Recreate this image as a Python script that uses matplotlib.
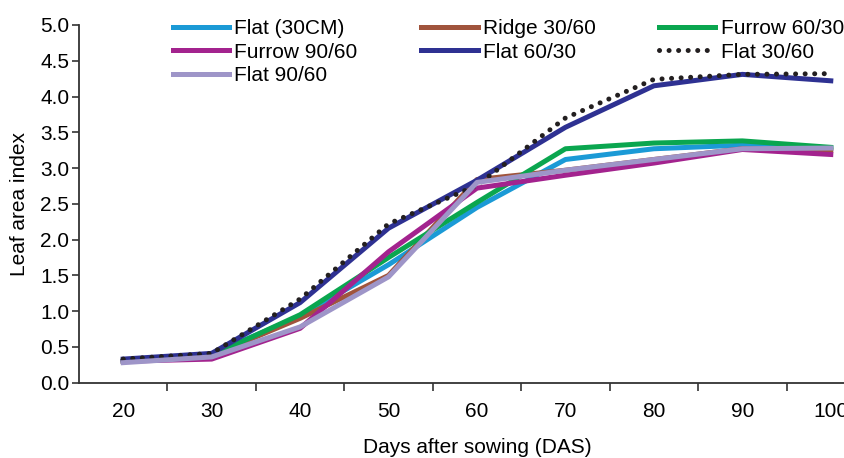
import numpy as np
import matplotlib
matplotlib.use("Agg")
import matplotlib.pyplot as plt

plt.rcParams['font.family'] = ['Liberation Sans', 'DejaVu Sans']

# Data
days = [20, 30, 40, 50, 60, 70, 80, 90, 100]
flat_30cm = [0.30, 0.40, 0.93, 1.65, 2.45, 3.12, 3.27, 3.32, 3.27]
ridge_30_60 = [0.30, 0.38, 0.90, 1.50, 2.84, 2.97, 3.12, 3.27, 3.25]
furrow_60_30 = [0.30, 0.38, 0.95, 1.75, 2.52, 3.27, 3.35, 3.38, 3.29]
furrow_90_60 = [0.30, 0.33, 0.76, 1.83, 2.72, 2.90, 3.07, 3.26, 3.19]
flat_60_30 = [0.33, 0.41, 1.12, 2.16, 2.83, 3.57, 4.15, 4.31, 4.22]
flat_30_60 = [0.33, 0.41, 1.17, 2.22, 2.76, 3.70, 4.24, 4.31, 4.32]
flat_90_60 = [0.28, 0.36, 0.78, 1.48, 2.80, 2.97, 3.12, 3.27, 3.28]

fig = plt.figure(figsize=(8.44, 4.58), dpi=100)
# axes runs past the right edge like in the original
ax = fig.add_axes([79 / 844, 1 - 382.7 / 458, 796 / 844, 357.7 / 458])

x = np.arange(len(days))
lw = 3.6
ax.plot(x, flat_30cm, color='#1b9ad6', lw=lw, label='Flat (30CM)')
ax.plot(x, ridge_30_60, color='#a0543c', lw=lw, label='Ridge 30/60')
ax.plot(x, furrow_60_30, color='#0aa64f', lw=lw, label='Furrow 60/30')
ax.plot(x, furrow_90_60, color='#a3238e', lw=lw, label='Furrow 90/60')
ax.plot(x, flat_60_30, color='#2e3192', lw=lw, label='Flat 60/30')
ax.plot(x, flat_30_60, color='#231f20', lw=lw, linestyle=(0, (0.01, 1.9)),
        dash_capstyle='round', label='Flat 30/60')
ax.plot(x, flat_90_60, color='#9e95c8', lw=lw, label='Flat 90/60')

ax.set_xlim(-0.5, 8.5)
ax.set_ylim(0, 5)
ax.set_yticks(np.arange(0, 5.01, 0.5))
ax.set_yticklabels([f'{v:.1f}' for v in np.arange(0, 5.01, 0.5)])
ax.set_xticks(x)
ax.set_xticklabels([str(d) for d in days])
ax.set_xticks(x[:-1] + 0.5, minor=True)
ax.tick_params(axis='x', which='major', length=0, pad=14, labelsize=15)
ax.tick_params(axis='x', which='minor', length=6, width=1.2, color='#333333')
ax.tick_params(axis='y', length=5, width=1.2, pad=2, labelsize=15, color='#333333')

for s in ['top', 'right']:
    ax.spines[s].set_visible(False)
for s in ['left', 'bottom']:
    ax.spines[s].set_linewidth(1.3)
    ax.spines[s].set_color('#333333')

ax.set_xlabel('Days after sowing (DAS)', fontsize=15, labelpad=12)
ax.set_ylabel('Leaf area index', fontsize=15, labelpad=8)

# legend fills column by column, so reorder to get row-wise layout
handles, labels = ax.get_legend_handles_labels()
order = [0, 3, 6, 1, 4, 2, 5]
fig.legend([handles[i] for i in order], [labels[i] for i in order],
           ncol=3, frameon=False, fontsize=15,
           loc='upper left', bbox_to_anchor=(173 / 844, 1 - 19 / 458),
           borderpad=0, borderaxespad=0, handlelength=2.7, handletextpad=0.25,
           labelspacing=0.22, columnspacing=3.05)

fig.savefig('out.png', dpi=100)
